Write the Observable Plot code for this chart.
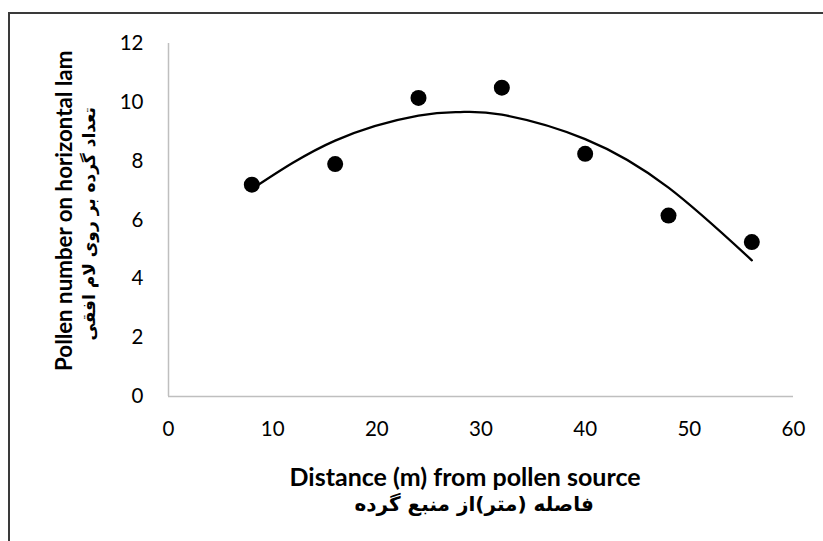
<!DOCTYPE html>
<html>
<head>
<meta charset="utf-8">
<script src="https://cdn.jsdelivr.net/npm/d3@7"></script>
<script src="https://cdn.jsdelivr.net/npm/@observablehq/plot@0.6"></script>
<style>
  html, body { margin: 0; padding: 0; background: #fff; overflow: hidden; width: 823px; height: 541px; }
  #frame { position: absolute; left: 8px; top: 12px; width: 900px; height: 600px; border-left: 2px solid #3a3a3a; border-top: 2px solid #3a3a3a; }
  #chart { position: absolute; left: 0; top: 0; }
  .t { position: absolute; white-space: nowrap; color: #000; line-height: 1.15; }
  .en { font-family: Lato, "Open Sans", sans-serif; font-weight: bold; }
  .fa { font-family: "DejaVu Sans", sans-serif; font-weight: bold; direction: rtl; }
  #xt1 { font-size: 25px; }
  #xt2 { font-size: 20px; }
  #yt1 { font-size: 22.3px; }
  #yt2 { font-size: 17px; }
</style>
</head>
<body>
<div id="frame"></div>
<div id="chart"></div>
<div class="t en" id="xt1">Distance (m) from pollen source</div>
<div class="t fa" id="xt2">فاصله  (متر)از منبع گرده</div>
<div class="t en" id="yt1">Pollen number on horizontal lam</div>
<div class="t fa" id="yt2">تعداد گرده بر روی لام افقی</div>
<script>
// Observed data points
const distance = [8, 16, 24, 32, 40, 48, 56];
const pollen = [7.2, 7.9, 10.15, 10.5, 8.25, 6.15, 5.25];

// Trend curve (polynomial trendline)
const trendX = [8, 16, 24, 28, 32, 40, 48, 56];
const trendY = [7.05, 8.7, 9.55, 9.67, 9.58, 8.75, 7.1, 4.63];

const xTicks = [0, 10, 20, 30, 40, 50, 60];
const yTicks = [0, 2, 4, 6, 8, 10, 12];

const points = distance.map((d, i) => ({x: d, y: pollen[i]}));
const trend = trendX.map((d, i) => ({x: d, y: trendY[i]}));

const chart = Plot.plot({
  width: 823,
  height: 541,
  marginLeft: 168,
  marginRight: 30,
  marginTop: 43,
  marginBottom: 145,
  style: {fontFamily: "Lato, 'Open Sans', sans-serif", fontSize: "20.5px", color: "#000", background: "transparent"},
  x: {domain: [0, 60], ticks: xTicks, tickSize: 0, tickPadding: 25, label: null},
  y: {domain: [0, 12], ticks: yTicks, tickSize: 0, tickPadding: 25, label: null},
  marks: [
    Plot.ruleY([0], {stroke: "#bfbfbf", strokeWidth: 1.5}),
    Plot.ruleX([0], {stroke: "#bfbfbf", strokeWidth: 1.5}),
    Plot.line(trend, {x: "x", y: "y", curve: "natural", stroke: "#000", strokeWidth: 2.3}),
    Plot.dot(points, {x: "x", y: "y", r: 8, fill: "#000", stroke: "none"})
  ]
});
document.getElementById("chart").appendChild(chart);

function place(id, cx, cy, rot) {
  const el = document.getElementById(id);
  const w = el.offsetWidth, h = el.offsetHeight;
  el.style.left = (cx - w / 2) + "px";
  el.style.top = (cy - h / 2) + "px";
  if (rot) el.style.transform = "rotate(" + rot + "deg)";
}
place("xt1", 465, 476);
place("xt2", 474, 504);
place("yt1", 64, 211, -90);
place("yt2", 90, 224, -90);
</script>
</body>
</html>
